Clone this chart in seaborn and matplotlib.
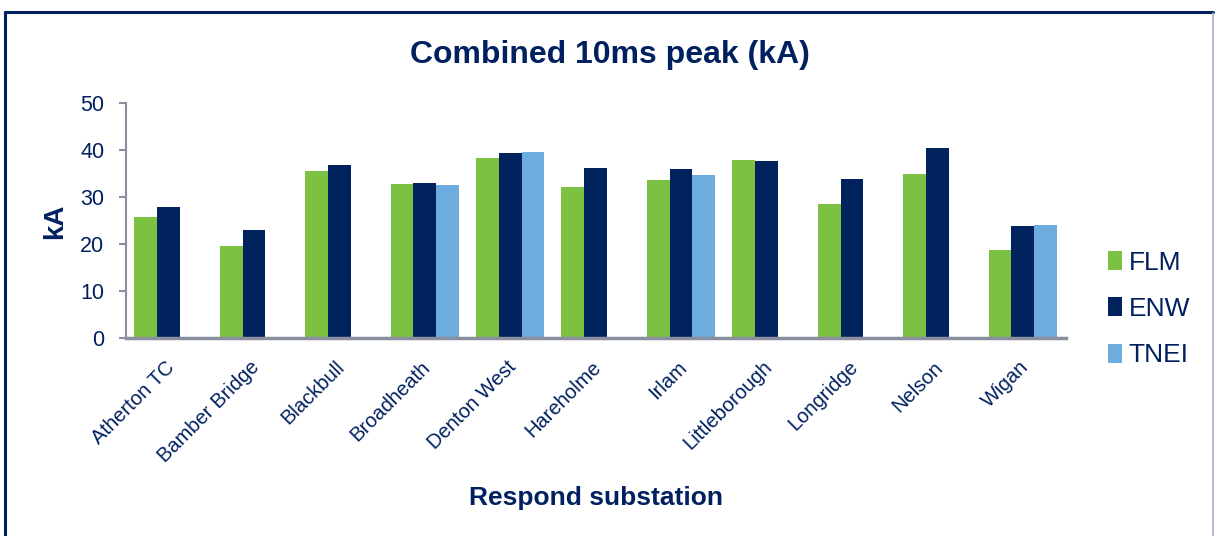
import numpy as np
import pandas as pd
import matplotlib
matplotlib.use("Agg")
import matplotlib.pyplot as plt
import matplotlib.transforms as mtransforms
from matplotlib.lines import Line2D
import seaborn as sns

# Peak fault current per substation, by study
substations = ["Atherton TC", "Bamber Bridge", "Blackbull", "Broadheath", "Denton West",
               "Hareholme", "Irlam", "Littleborough", "Longridge", "Nelson", "Wigan"]
flm = [25.8, 19.7, 35.5, 32.8, 38.4, 32.2, 33.7, 37.9, 28.5, 34.9, 18.8]
enw = [27.9, 23.0, 36.8, 33.1, 39.5, 36.3, 36.0, 37.7, 34.0, 40.4, 23.9]
tnei = [np.nan, np.nan, np.nan, 32.6, 39.6, np.nan, 34.7, np.nan, np.nan, np.nan, 24.1]
series = ["FLM", "ENW", "TNEI"]
yticks = [0, 10, 20, 30, 40, 50]

NAVY = "#002060"
colors = {"FLM": "#7DC142", "ENW": "#00235E", "TNEI": "#6CACDE"}
AXIS_GREY = "#8A8E9E"

df = pd.DataFrame({
    "Substation": substations * 3,
    "Source": ["FLM"] * len(substations) + ["ENW"] * len(substations) + ["TNEI"] * len(substations),
    "kA": flm + enw + tnei,
}).dropna()

sns.set_theme(style="white")
plt.rcParams["font.family"] = ["Liberation Sans", "DejaVu Sans"]

fig = plt.figure(figsize=(12.15, 5.36), dpi=100)
ax = fig.add_axes([0.1035, 0.3685, 0.7735, 0.4388])

sns.barplot(data=df, x="Substation", y="kA", hue="Source", order=substations,
            hue_order=series, palette=colors, width=0.8, saturation=1,
            edgecolor="none", linewidth=0, ax=ax)

ax.set_xlim(-0.5, len(substations) - 0.5)
ax.set_ylim(0, 50)
ax.set_yticks(yticks)
ax.set_yticklabels([str(t) for t in yticks], fontsize=15.5, color=NAVY)
ax.set_xticks(range(len(substations)))
ax.set_xticklabels(substations, rotation=45, ha="right", rotation_mode="anchor",
                   fontsize=14.5, color=NAVY)
ax.tick_params(axis="y", which="both", left=True, length=5, width=1.5,
               color=AXIS_GREY, pad=10.5)
ax.tick_params(axis="x", bottom=False, pad=7)
ax.set_xlabel("")
ax.set_ylabel("")

# nudge the slanted category labels so their ends sit at the group centres
nudge = mtransforms.ScaledTranslation(-4 / 100, -1 / 100, fig.dpi_scale_trans)
for lbl in ax.get_xticklabels():
    lbl.set_transform(lbl.get_transform() + nudge)

for side in ["top", "right"]:
    ax.spines[side].set_visible(False)
ax.spines["left"].set_color(AXIS_GREY)
ax.spines["left"].set_linewidth(1.5)
ax.spines["bottom"].set_color(AXIS_GREY)
ax.spines["bottom"].set_linewidth(2.5)

# Legend on the right
handles, labels = ax.get_legend_handles_labels()
ax.legend(handles, labels, loc="center left", bbox_to_anchor=(0.903, 1 - 309 / 536),
          bbox_transform=fig.transFigure, frameon=False, fontsize=19,
          handlelength=0.55, handleheight=0.75, handletextpad=0.25,
          labelspacing=0.85, labelcolor=NAVY, borderaxespad=0)

fig.text(0.502, 1 - 63 / 536, "Combined 10ms peak (kA)", ha="center", va="baseline",
         fontsize=23, fontweight="bold", color=NAVY)
fig.text(595.7 / 1215, 31 / 536, "Respond substation", ha="center", va="baseline",
         fontsize=19, fontweight="bold", color=NAVY)
fig.text(55 / 1215, 1 - 221 / 536, "kA", ha="center", va="center", rotation=90,
         fontsize=20, fontweight="bold", color=NAVY)

# Frame around the chart area
fig.add_artist(Line2D([5 / 1215, 1213 / 1215], [1 - 12 / 536, 1 - 12 / 536],
                      transform=fig.transFigure, color=NAVY, linewidth=2.2))
fig.add_artist(Line2D([5 / 1215, 5 / 1215], [0, 1 - 12 / 536],
                      transform=fig.transFigure, color=NAVY, linewidth=2.2))
fig.add_artist(Line2D([1213 / 1215, 1213 / 1215], [0, 1 - 13 / 536],
                      transform=fig.transFigure, color="#A9B0C8", linewidth=1.2))

fig.savefig("out.png", dpi=100, facecolor="white")
